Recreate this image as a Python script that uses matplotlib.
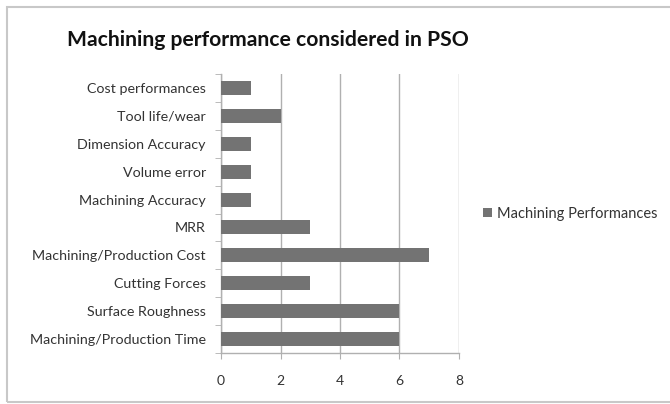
import matplotlib.pyplot as plt
from matplotlib.patches import Rectangle

# Categories listed from the bottom bar up (Excel order)
categories = ['Machining/Production Time', 'Surface Roughness', 'Cutting Forces',
              'Machining/Production Cost', 'MRR', 'Machining Accuracy',
              'Volume error', 'Dimension Accuracy', 'Tool life/wear',
              'Cost performances']
counts = [6, 6, 3, 7, 3, 1, 1, 1, 2, 1]
x_ticks = [0, 2, 4, 6, 8]

plt.rcParams['font.family'] = ['Lato', 'DejaVu Sans']

fig = plt.figure(figsize=(6.7, 4.04), dpi=100)
ax = fig.add_axes([0.330, 0.126, 0.355, 0.691])

# chart border like the Excel chart area
fig.patches.append(Rectangle((7 / 670, 2 / 404), 1.0, 395 / 404, transform=fig.transFigure,
                             fill=False, edgecolor='#c8c8c8', linewidth=1.5))

pos = range(len(categories))
ax.barh(pos, counts, height=0.5, color='#737373', label='Machining Performances', zorder=3)

ax.set_xlim(0, 8)
ax.set_ylim(-0.5, len(categories) - 0.5)
ax.set_xticks(x_ticks)
ax.set_yticks(list(pos))
ax.set_yticklabels(categories)
ax.set_yticks([p - 0.5 for p in range(len(categories) + 1)], minor=True)

ax.grid(axis='x', color='#b0b0b0', linewidth=1, zorder=0)
for side in ['top', 'right']:
    ax.spines[side].set_visible(False)
for side in ['left', 'bottom']:
    ax.spines[side].set_color('#b0b0b0')
    ax.spines[side].set_linewidth(1)

ax.tick_params(axis='y', which='major', length=0, labelsize=10.3, pad=11, labelcolor='#333333')
ax.tick_params(axis='y', which='minor', length=4, color='#b0b0b0')
ax.tick_params(axis='x', length=4, color='#b0b0b0', labelsize=10, pad=12, labelcolor='#333333')

fig.text(0.40, 0.90, 'Machining performance considered in PSO', ha='center', va='center',
         fontsize=15.2, fontweight='bold', color='#111111')

ax.legend(loc='center left', bbox_to_anchor=(1.045, 0.5), frameon=False, fontsize=10.5,
          handlelength=0.6, handleheight=0.6, handletextpad=0.4, labelcolor='#333333')

fig.savefig('out.png', dpi=100)
